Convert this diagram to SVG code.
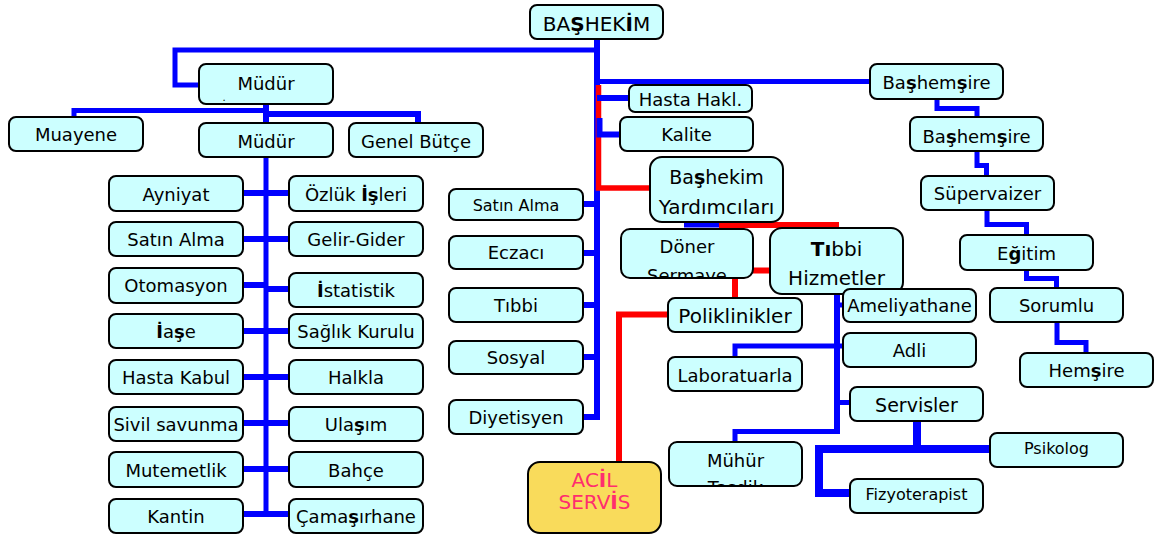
<svg xmlns="http://www.w3.org/2000/svg" width="1160" height="534" viewBox="0 0 1160 534">
<style>
.box{fill:#CCFFFF;stroke:#000;stroke-width:2}
.acil{fill:#F9DB5B;stroke:#000;stroke-width:2}
text{font-family:"DejaVu Sans",Verdana,"Liberation Sans",sans-serif;font-size:18px;text-anchor:middle;fill:#000}
.s16{font-size:16px}
.s19{font-size:19px}
.s20{font-size:20px}
.b{font-weight:bold}
.pink{fill:#FF2D6E}
.bl{stroke:#0000FF;fill:none;stroke-width:6}
.bk{stroke:#0000FF;fill:none;stroke-width:8}
.bt{stroke:#0000FF;fill:none;stroke-width:5}
.rd{stroke:#FF0000;fill:none;stroke-width:6}
</style>
<defs>
<clipPath id="cDoner"><rect x="622" y="230" width="130" height="47"/></clipPath>
<clipPath id="cMuhur"><rect x="670" y="443" width="131" height="42"/></clipPath>
</defs>
<rect width="1160" height="534" fill="#fff"/>
<g id="connectors">
<path class="bl" d="M597,39 V420"/>
<path class="bt" d="M597,50 H175 V85 H199"/>
<path class="bt" d="M597,81.5 H870"/>
<path class="bl" d="M266,104 V123"/>
<path class="bt" d="M266,110.5 H74 V117"/>
<path class="bl" d="M266,114 H418 V123"/>
<path class="bt" d="M266,157 V517"/>
<path class="bl" d="M243,193 H289 M243,239 H289 M243,285 H266 M266,289 H289 M243,331 H289 M243,377 H289 M243,423 H289 M243,469 H289 M243,514 H289"/>
<path class="bl" d="M583,204 H597 M583,253 H597 M583,305 H597 M583,357 H597 M583,417 H597"/>
<path class="rd" d="M598.5,85 V188 H650" style="stroke-width:5.5"/>
<path class="bl" d="M597,98 H629"/>
<path class="bl" d="M599.5,118 V134.5 H620"/>
<path class="bt" d="M684,225 H719"/>
<path class="rd" d="M719,225 H839"/>
<path class="rd" d="M753,270.5 H770 M735,278 V298"/>
<path class="rd" d="M668,314.5 H619 V462"/>
<path class="bl" d="M837,294 V434"/>
<path class="bt" d="M837,305 H843"/>
<path class="bt" d="M843,346 H735 V357"/>
<path class="bt" d="M837,402.5 H850"/>
<path class="bt" d="M837,431.5 H735 V442"/>
<path class="bk" d="M917,421 V449"/>
<path class="bk" d="M990,449 H819 V493 H850"/>
<path class="bt" d="M937,99 V108.5 H977 V117"/>
<path class="bt" d="M977,151 V165.5 H986.5 V176"/>
<path class="bt" d="M987,210 V224.5 H1026.5 V235"/>
<path class="bt" d="M1026.5,270 V278.5 H1056.5 V288"/>
<path class="bt" d="M1057,322 V342.5 H1086 V353"/>
</g>
<g id="n-bashekim"><rect class="box" x="530" y="5" width="133" height="34" rx="7"/><text class="s20" x="596.5" y="31">BA<tspan class="b">Ş</tspan>HEK<tspan class="b">İ</tspan>M</text></g>
<g id="n-mudur1"><rect class="box" x="199" y="64" width="134" height="40" rx="7"/><text x="266" y="90">Müdür</text><text x="224" y="101" style="font-size:10px">.</text></g>
<g id="n-muayene"><rect class="box" x="9" y="117" width="134" height="34" rx="7"/><text x="76" y="141">Muayene</text></g>
<g id="n-mudur2"><rect class="box" x="199" y="123" width="134" height="34" rx="7"/><text x="266" y="147.5">Müdür</text></g>
<g id="n-genel"><rect class="box" x="349" y="123" width="134" height="34" rx="7"/><text x="416" y="147.5">Genel Bütçe</text></g>
<g id="n-ayniyat"><rect class="box" x="109" y="176" width="134" height="35" rx="7"/><text x="176" y="200.5">Ayniyat</text></g>
<g id="n-ozluk"><rect class="box" x="289" y="176" width="134" height="35" rx="7"/><text x="356" y="200.5">Özlük <tspan class="b">İş</tspan>leri</text></g>
<g id="n-satin1"><rect class="box" x="109" y="222" width="134" height="34" rx="7"/><text x="176" y="246">Satın Alma</text></g>
<g id="n-gelir"><rect class="box" x="289" y="222" width="134" height="34" rx="7"/><text x="356" y="246">Gelir-Gider</text></g>
<g id="n-otomasyon"><rect class="box" x="109" y="268" width="134" height="35" rx="7"/><text x="176" y="292">Otomasyon</text></g>
<g id="n-istatistik"><rect class="box" x="289" y="273" width="134" height="34" rx="7"/><text x="356" y="297"><tspan class="b">İ</tspan>statistik</text></g>
<g id="n-iase"><rect class="box" x="109" y="314" width="134" height="34" rx="7"/><text x="176" y="338"><tspan class="b">İ</tspan>a<tspan class="b">ş</tspan>e</text></g>
<g id="n-saglik"><rect class="box" x="289" y="314" width="134" height="34" rx="7"/><text x="356" y="338">Sağlık Kurulu</text></g>
<g id="n-hastakabul"><rect class="box" x="109" y="360" width="134" height="34" rx="7"/><text x="176" y="384">Hasta Kabul</text></g>
<g id="n-halkla"><rect class="box" x="289" y="360" width="134" height="34" rx="7"/><text x="356" y="384">Halkla</text></g>
<g id="n-sivil"><rect class="box" x="109" y="407" width="134" height="34" rx="7"/><text x="176" y="431">Sivil savunma</text></g>
<g id="n-ulasim"><rect class="box" x="289" y="407" width="134" height="34" rx="7"/><text x="356" y="431">Ula<tspan class="b">ş</tspan>ım</text></g>
<g id="n-mutemetlik"><rect class="box" x="109" y="452" width="134" height="35" rx="7"/><text x="176" y="476.5">Mutemetlik</text></g>
<g id="n-bahce"><rect class="box" x="289" y="452" width="134" height="35" rx="7"/><text x="356" y="476.5">Bahçe</text></g>
<g id="n-kantin"><rect class="box" x="109" y="499" width="134" height="34" rx="7"/><text x="176" y="523">Kantin</text></g>
<g id="n-camasir"><rect class="box" x="289" y="499" width="134" height="34" rx="7"/><text x="356" y="523">Çama<tspan class="b">ş</tspan>ırhane</text></g>
<g id="n-satin2"><rect class="box" x="449" y="189" width="134" height="31" rx="7"/><text class="s16" x="516" y="210.5">Satın Alma</text></g>
<g id="n-eczaci"><rect class="box" x="449" y="236" width="134" height="33" rx="7"/><text x="516" y="259">Eczacı</text></g>
<g id="n-tibbi"><rect class="box" x="449" y="288" width="134" height="34" rx="7"/><text x="516" y="311.5">Tıbbi</text></g>
<g id="n-sosyal"><rect class="box" x="449" y="341" width="134" height="33" rx="7"/><text x="516" y="364">Sosyal</text></g>
<g id="n-diyetisyen"><rect class="box" x="449" y="400" width="134" height="34" rx="7"/><text x="516" y="424">Diyetisyen</text></g>
<g id="n-hastahakl"><rect class="box" x="629" y="85" width="123" height="27" rx="6"/><text x="690.5" y="106">Hasta Hakl.</text></g>
<g id="n-kalite"><rect class="box" x="620" y="117" width="133" height="34" rx="7"/><text x="686.5" y="141">Kalite</text></g>
<g id="n-yardimci"><rect class="box" x="650" y="157" width="133" height="65" rx="12"/><text class="s19" x="716.5" y="184">Ba<tspan class="b">ş</tspan>hekim</text><text class="s20" x="716.5" y="214">Yardımcıları</text></g>
<g id="n-doner"><rect class="box" x="621" y="229" width="132" height="49" rx="9"/><g clip-path="url(#cDoner)"><text x="687" y="253">Döner</text><text x="687" y="282">Sermaye</text></g></g>
<g id="n-tibbihiz"><rect class="box" x="770" y="228" width="133" height="66" rx="12"/><text class="s20" x="836.5" y="256"><tspan class="b">Tı</tspan>bbi</text><text class="s20" x="836.5" y="285">Hizmetler</text></g>
<g id="n-poli"><rect class="box" x="668" y="298" width="134" height="34" rx="7"/><text class="s20" x="735" y="323">Poliklinikler</text></g>
<g id="n-lab"><rect class="box" x="668" y="357" width="134" height="34" rx="7"/><text x="735" y="381.5">Laboratuarla</text></g>
<g id="n-muhur"><rect class="box" x="669" y="442" width="133" height="44" rx="8"/><g clip-path="url(#cMuhur)"><text x="735.5" y="467">Mühür</text><text x="735.5" y="494">Tasdik</text></g></g>
<g id="n-acil"><rect class="acil" x="528" y="462" width="133" height="71" rx="12"/><text class="s20 pink" x="594.5" y="487">AC<tspan class="b">İ</tspan>L</text><text class="s20 pink" x="594.5" y="509">SERV<tspan class="b">İ</tspan>S</text></g>
<g id="n-ameliyat"><rect class="box" x="843" y="289" width="133" height="33" rx="7"/><text x="909.5" y="312">Ameliyathane</text></g>
<g id="n-adli"><rect class="box" x="843" y="333" width="133" height="34" rx="7"/><text x="909.5" y="357">Adli</text></g>
<g id="n-servisler"><rect class="box" x="850" y="387" width="133" height="34" rx="7"/><text class="s19" x="916.5" y="411.5">Servisler</text></g>
<g id="n-psikolog"><rect class="box" x="990" y="433" width="133" height="34" rx="7"/><text class="s16" x="1056.5" y="453.5">Psikolog</text></g>
<g id="n-fizyo"><rect class="box" x="850" y="479" width="133" height="34" rx="7"/><text class="s16" x="916.5" y="499.5">Fizyoterapist</text></g>
<g id="n-bashemsire1"><rect class="box" x="870" y="64" width="133" height="35" rx="7"/><text x="936.5" y="89">Ba<tspan class="b">ş</tspan>hem<tspan class="b">ş</tspan>ire</text></g>
<g id="n-bashemsire2"><rect class="box" x="910" y="117" width="133" height="34" rx="7"/><text x="976.5" y="142.5">Ba<tspan class="b">ş</tspan>hem<tspan class="b">ş</tspan>ire</text></g>
<g id="n-supervaizer"><rect class="box" x="921" y="176" width="133" height="34" rx="7"/><text x="987.5" y="200">Süpervaizer</text></g>
<g id="n-egitim"><rect class="box" x="960" y="235" width="133" height="35" rx="7"/><text x="1026.5" y="260">E<tspan class="b">ğ</tspan>itim</text></g>
<g id="n-sorumlu"><rect class="box" x="990" y="288" width="133" height="34" rx="7"/><text x="1056.5" y="311.5">Sorumlu</text></g>
<g id="n-hemsire"><rect class="box" x="1020" y="353" width="133" height="34" rx="7"/><text x="1086.5" y="377">Hem<tspan class="b">ş</tspan>ire</text></g>
</svg>
